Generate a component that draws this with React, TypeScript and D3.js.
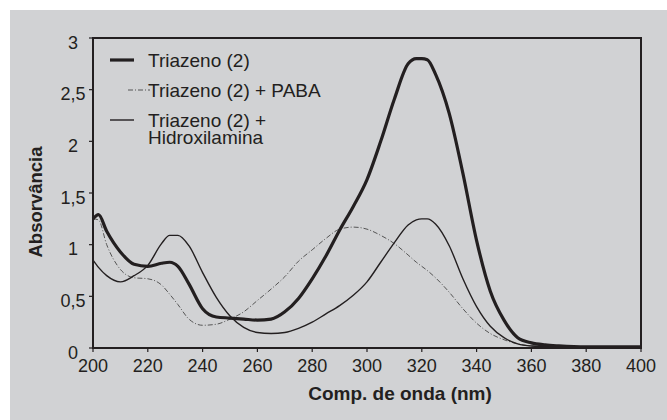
import React from "react";
import * as d3 from "d3";

const wavelengths = [200, 202, 205, 210, 215, 220, 225, 228, 231, 235, 240, 245, 250, 255, 260, 265, 270, 275, 280, 285, 290, 295, 300, 305, 310, 315, 318, 320, 322, 325, 330, 335, 340, 345, 350, 355, 360, 365, 370, 380, 390, 400];

const triazeno = [1.25, 1.29, 1.13, 0.93, 0.81, 0.79, 0.82, 0.83, 0.79, 0.62, 0.38, 0.30, 0.29, 0.28, 0.27, 0.28, 0.35, 0.48, 0.67, 0.89, 1.14, 1.37, 1.63, 2.0, 2.41, 2.75, 2.80, 2.80, 2.79, 2.65, 2.27, 1.69, 1.04, 0.55, 0.27, 0.10, 0.05, 0.03, 0.02, 0.01, 0.01, 0.01];

const triazenoPaba = [1.25, 1.24, 1.0, 0.76, 0.68, 0.67, 0.61, 0.52, 0.42, 0.28, 0.22, 0.23, 0.28, 0.35, 0.46, 0.57, 0.69, 0.84, 0.95, 1.06, 1.15, 1.17, 1.15, 1.09, 1.01, 0.9, 0.83, 0.79, 0.75, 0.68, 0.54, 0.38, 0.24, 0.14, 0.08, 0.04, 0.02, 0.015, 0.01, 0.01, 0.01, 0.01];

const triazenoHidrox = [0.85, 0.78, 0.7, 0.64, 0.7, 0.8, 1.01, 1.09, 1.09, 0.99, 0.73, 0.49, 0.31, 0.2, 0.15, 0.14, 0.15, 0.19, 0.25, 0.33, 0.41, 0.51, 0.64, 0.83, 1.02, 1.19, 1.24, 1.25, 1.25, 1.2, 0.99, 0.67, 0.4, 0.21, 0.1, 0.04, 0.02, 0.015, 0.01, 0.01, 0.01, 0.01];

const xTicks = [200, 220, 240, 260, 280, 300, 320, 340, 360, 380, 400];
const yTicks = [0, 0.5, 1, 1.5, 2, 2.5, 3];
const yTickLabels = ["0", "0,5", "1", "1,5", "2", "2,5", "3"];

const legendLabels = ["Triazeno (2)", "Triazeno (2) + PABA", "Triazeno (2) +", "Hidroxilamina"];
const xTitle = "Comp. de onda (nm)";
const yTitle = "Absorvância";

const INK = "#231f20";
const FONT = "'Liberation Sans', Arial, sans-serif";

export default function App() {
  const x = d3.scaleLinear().domain([200, 400]).range([93, 641]);
  const y = d3.scaleLinear().domain([0, 3]).range([348, 38]);

  const mk = (vals: number[]) =>
    d3
      .line<number>()
      .x((_, i) => x(wavelengths[i]))
      .y((v) => y(v))
      .curve(d3.curveMonotoneX)(vals) || "";

  return (
    <svg
      width={667}
      height={420}
      style={{ position: "absolute", left: 0, top: 0, display: "block" }}
      fontFamily={FONT}
    >
      <rect x={0} y={0} width={667} height={420} fill="#ffffff" />
      <rect x={10} y={10} width={657} height={410} fill="#d1d2d4" />

      {/* series */}
      <path d={mk(triazenoPaba)} fill="none" stroke="#555" strokeWidth={1} strokeDasharray="5,2,1,2" />
      <path d={mk(triazenoHidrox)} fill="none" stroke={INK} strokeWidth={1.4} />
      <path d={mk(triazeno)} fill="none" stroke={INK} strokeWidth={3.2} strokeLinejoin="round" />

      {/* frame */}
      <rect x={x(200)} y={y(3)} width={x(400) - x(200)} height={y(0) - y(3)} fill="none" stroke={INK} strokeWidth={2} />

      {/* x ticks */}
      {xTicks.map((t) => (
        <g key={"x" + t}>
          <line x1={x(t)} x2={x(t)} y1={y(0)} y2={y(0) + 4} stroke={INK} strokeWidth={1.2} />
          <text x={x(t)} y={372} textAnchor="middle" fontSize={18} fill={INK}>
            {t}
          </text>
        </g>
      ))}

      {/* y ticks */}
      {yTicks.map((t, i) => (
        <g key={"y" + t}>
          <line x1={x(200) - 4} x2={x(200)} y1={y(t)} y2={y(t)} stroke={INK} strokeWidth={1.2} />
          <text x={73} y={y(t) + 10.5} textAnchor="middle" fontSize={18} fill={INK}>
            {yTickLabels[i]}
          </text>
        </g>
      ))}

      {/* titles */}
      <text x={400} y={400} textAnchor="middle" fontSize={19} fontWeight="bold" fill={INK}>
        {xTitle}
      </text>
      <text
        transform={`translate(41.5,202) rotate(-90)`}
        textAnchor="middle"
        fontSize={18.5}
        fontWeight="bold"
        fill={INK}
      >
        {yTitle}
      </text>

      {/* legend */}
      <line x1={110} x2={134} y1={60} y2={60} stroke={INK} strokeWidth={3.2} />
      <text x={148} y={66.7} fontSize={19} fill={INK}>{legendLabels[0]}</text>
      <line x1={128} x2={150} y1={90} y2={90} stroke="#555" strokeWidth={1} strokeDasharray="5,2,1,2" />
      <text x={148} y={96.7} fontSize={19} fill={INK}>{legendLabels[1]}</text>
      <line x1={110} x2={134} y1={120} y2={120} stroke={INK} strokeWidth={1.4} />
      <text x={148} y={126.7} fontSize={19} fill={INK}>{legendLabels[2]}</text>
      <text x={148} y={144.3} fontSize={19} fill={INK}>{legendLabels[3]}</text>
    </svg>
  );
}
